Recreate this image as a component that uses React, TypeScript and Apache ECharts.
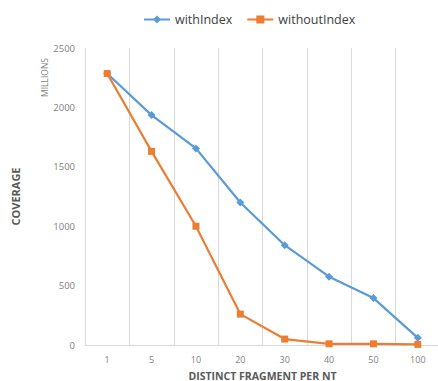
import React, { useEffect, useRef } from "react";
import * as echarts from "echarts";

const categories = ["1", "5", "10", "20", "30", "40", "50", "100"];
const withIndex = [2285, 1935, 1655, 1200, 840, 575, 395, 60];
const withoutIndex = [2285, 1630, 1000, 260, 50, 10, 10, 5];
const yTicks = { min: 0, max: 2500, interval: 500 };

export default function App() {
  const ref = useRef<HTMLDivElement>(null);
  useEffect(() => {
    const chart = echarts.init(ref.current!, null, { renderer: "svg" });
    const font = "'Open Sans', sans-serif";
    chart.setOption({
      animation: false,
      textStyle: { fontFamily: font },
      legend: {
        top: 8,
        left: 138,
        itemWidth: 26,
        itemHeight: 10,
        itemGap: 14,
        textStyle: { fontSize: 12.5, color: "#404040", fontFamily: font },
        data: ["withIndex", "withoutIndex"],
      },
      grid: { left: 85, right: -2, top: 48, bottom: 36, outerBoundsMode: "none", containLabel: false },
      xAxis: {
        type: "category",
        data: categories,
        boundaryGap: true,
        axisLine: { show: true, lineStyle: { color: "#d9d9d9", width: 1 } },
        axisTick: { show: false },
        axisLabel: { color: "#7f7f7f", fontSize: 9, margin: 10 },
        splitLine: { show: true, lineStyle: { color: "#d9d9d9", width: 1 } },
        name: "DISTINCT FRAGMENT PER NT",
        nameLocation: "middle",
        nameGap: 25,
        nameTextStyle: { color: "#595959", fontSize: 10.5, fontWeight: "bold" },
      },
      yAxis: {
        type: "value",
        min: yTicks.min,
        max: yTicks.max,
        interval: yTicks.interval,
        axisLine: { show: false },
        axisTick: { show: false },
        splitLine: { show: false },
        axisLabel: { color: "#7f7f7f", fontSize: 9.5, margin: 10, formatter: (v: number) => String(v) },
        name: "COVERAGE",
        nameLocation: "middle",
        nameGap: 64,
        nameTextStyle: { color: "#595959", fontSize: 11, fontWeight: "bold" },
      },
      graphic: [
        {
          type: "text",
          x: 40,
          y: 58,
          rotation: Math.PI / 2,
          originX: 0,
          originY: 0,
          style: {
            text: "MILLIONS",
            fill: "#7f7f7f",
            font: `8.5px ${font}`,
            align: "right",
          },
        },
      ],
      series: [
        {
          name: "withIndex",
          type: "line",
          data: withIndex,
          symbol: "diamond",
          symbolSize: 8,
          itemStyle: { color: "#5b9bd5" },
          lineStyle: { color: "#5b9bd5", width: 2.2 },
        },
        {
          name: "withoutIndex",
          type: "line",
          data: withoutIndex,
          symbol: "rect",
          symbolSize: 7,
          itemStyle: { color: "#ed7d31" },
          lineStyle: { color: "#ed7d31", width: 2.2 },
        },
      ],
    });
    return () => chart.dispose();
  }, []);
  return <div ref={ref} style={{ width: 438, height: 381, position: "absolute", left: 0, top: 0 }} />;
}
